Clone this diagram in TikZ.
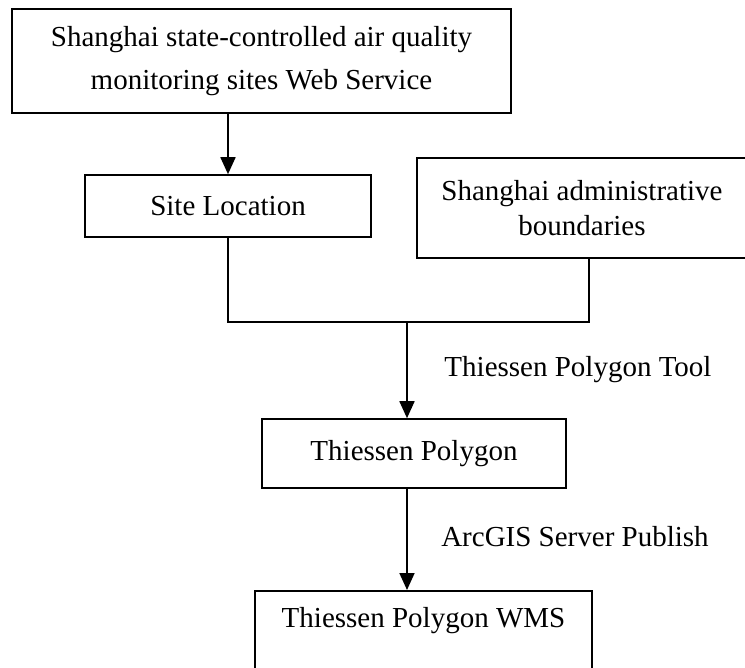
\documentclass[tikz,border=0pt]{standalone}
\usepackage{fontspec}
\setmainfont{Liberation Serif}
\usepackage{tikz}
\usetikzlibrary{arrows.meta}

\tikzset{
  flowbox/.style={draw, line width=0.8pt, inner sep=0pt, font=\fontsize{14.5}{17.5}\selectfont},
  flowarrow/.style={line width=0.9pt, -{Triangle[length=8.5pt,width=7.5pt]}},
  flowline/.style={line width=0.75pt},
  steplabel/.style={font=\fontsize{14.5}{17.5}\selectfont}
}

\begin{document}
\begin{tikzpicture}[x=0.5pt, y=-0.5pt]
  \useasboundingbox (0,0) rectangle (745,668);
  % Data sources
  \node[flowbox, align=center, minimum width=249.5pt, minimum height=52pt,
        font=\fontsize{14.5}{21.5}\selectfont] (service) at (261.5,61)
        {Shanghai state-controlled air quality\\monitoring sites Web Service};
  \node[flowbox, minimum width=143pt, minimum height=31pt] (site) at (228,206) {Site Location};
  \node[flowbox, align=center, minimum width=165pt, minimum height=50pt] (admin) at (582,208)
        {Shanghai administrative\\boundaries};
  % Results
  \node[flowbox, minimum width=152pt, minimum height=34.5pt] (thiessen) at (414,453.5) {Thiessen Polygon};
  \node[flowbox, anchor=north, minimum width=168.5pt, inner ysep=8.35pt, text depth=28.4pt] (wms)
        at (423.5,590) {Thiessen Polygon WMS};
  % Step labels
  \node[steplabel] (tooltext) at (578,370) {Thiessen Polygon Tool};
  \node[steplabel] (publishtext) at (575,537) {ArcGIS Server Publish};
  % Connectors
  \coordinate (merge) at (407,322);
  \coordinate (adminfoot) at (589,258);
  \draw[flowarrow] (service.south -| site.north) -- (site.north);
  \draw[flowline] (site.south) |- (merge) -| (adminfoot);
  \draw[flowarrow] (merge) -- (merge |- thiessen.north);
  \draw[flowarrow] (thiessen.south -| merge) -- (wms.north -| merge);
\end{tikzpicture}
\end{document}
